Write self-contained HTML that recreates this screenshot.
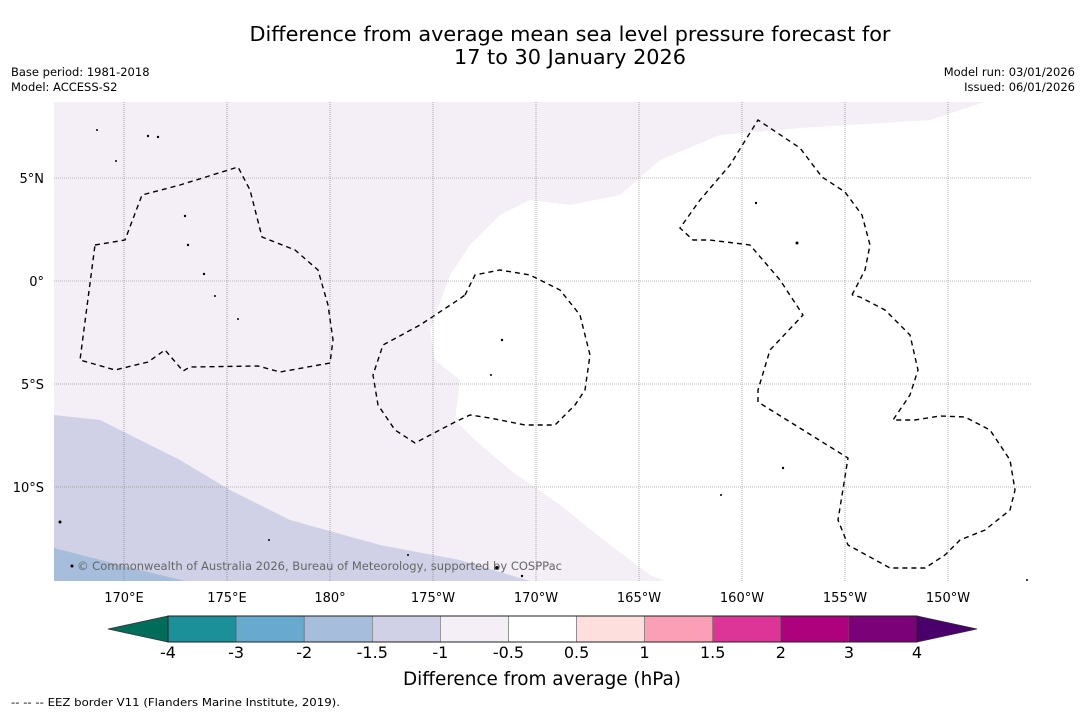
<!DOCTYPE html>
<html><head><meta charset="utf-8">
<style>
body{margin:0;background:#fff;font-family:"DejaVu Sans","Liberation Sans",sans-serif;}
#root{position:relative;width:1085px;height:713px;overflow:hidden;background:#fff;}
</style></head>
<body>
<div id="root">
<svg width="1085" height="713" xmlns="http://www.w3.org/2000/svg">
<text x="570" y="41" text-anchor="middle" font-size="20.8">Difference from average mean sea level pressure forecast for</text>
<text x="570" y="64" text-anchor="middle" font-size="20.8">17 to 30 January 2026</text>
<text x="11" y="76" font-size="11.5">Base period: 1981-2018</text>
<text x="11" y="91" font-size="11.5">Model: ACCESS-S2</text>
<text x="1075" y="76" font-size="11.5" text-anchor="end">Model run: 03/01/2026</text>
<text x="1075" y="91" font-size="11.5" text-anchor="end">Issued: 06/01/2026</text>
<defs><clipPath id="mc"><rect x="54" y="102" width="977" height="479"/></clipPath></defs>
<g clip-path="url(#mc)">
<rect x="54" y="102" width="977" height="479" fill="#f4eef6"/>
<polygon fill="#ffffff" points="985,102 930,120 800,128 720,135 660,160 620,195 570,205 530,200 500,215 470,245 450,275 430,330 435,360 460,380 455,420 475,440 510,470 560,505 610,545 650,575 665,581 1031,581 1031,102"/>
<polygon fill="#d0d1e6" points="54,415 100,420 180,460 230,490 290,520 380,545 460,560 530,581 54,581"/>
<polygon fill="#a6bddb" points="54,548 120,565 185,581 54,581"/>
<g id="grid" stroke="#777" stroke-width="0.6" stroke-dasharray="1,1"></g>
<g fill="none" stroke="#000" stroke-width="1.4" stroke-dasharray="5,4">
<polyline points="95,245 125,240 142,195 180,185 238,167 250,190 262,237 295,250 318,270 328,305 333,340 330,363 280,372 258,366 190,367 183,371 165,350 148,362 115,370 80,360 95,245"/>
<polyline points="465,295 475,275 500,270 530,275 560,290 580,315 590,355 585,390 575,405 555,425 525,425 490,418 470,415 455,422 415,443 395,430 378,405 373,375 383,345 420,325 458,300 465,295"/>
<polyline points="852,295 865,270 870,245 862,215 845,192 822,177 800,148 770,128 758,120 730,165 700,200 680,228 693,240 710,240 750,245 780,280 803,315 770,350 758,390 758,402 848,458 838,520 848,545 890,568 925,568 945,555 960,540 985,530 1010,510 1015,490 1010,460 990,430 965,417 940,416 915,420 893,420 910,395 918,370 910,335 885,310 860,297 852,295"/>
</g>
<g fill="#000">
<circle cx="148" cy="136" r="1.2"/><circle cx="158" cy="137" r="1.2"/><circle cx="97" cy="130" r="1"/><circle cx="116" cy="161" r="1"/><circle cx="185" cy="216" r="1.2"/><circle cx="188" cy="245" r="1.2"/><circle cx="204" cy="274" r="1.2"/><circle cx="215" cy="296" r="1"/><circle cx="238" cy="319" r="1"/><circle cx="502" cy="340" r="1.2"/><circle cx="491" cy="375" r="1"/><circle cx="756" cy="203" r="1.2"/><circle cx="797" cy="243" r="1.5"/><circle cx="783" cy="468" r="1.2"/><circle cx="721" cy="495" r="1"/><circle cx="60" cy="522" r="1.5"/><circle cx="72" cy="566" r="1.5"/><circle cx="497" cy="568" r="2"/><circle cx="522" cy="576" r="1.2"/><circle cx="269" cy="540" r="1"/><circle cx="408" cy="555" r="1"/><circle cx="1027" cy="580" r="1"/>
</g>
<text x="77" y="570" font-size="11.6" fill="#666" textLength="485" lengthAdjust="spacingAndGlyphs">© Commonwealth of Australia 2026, Bureau of Meteorology, supported by COSPPac</text>
</g>
<g id="axislabels" font-size="13"></g>
<g id="cbar"></g>
<text x="542" y="685" text-anchor="middle" font-size="18.4">Difference from average (hPa)</text>
<text x="11" y="706" font-size="11" textLength="329" lengthAdjust="spacingAndGlyphs">--  --  -- EEZ border V11 (Flanders Marine Institute, 2019).</text>
</svg>
</div>
<script>
const lonTicks=[170,175,180,185,190,195,200,205,210];
const lonLabels=["170°E","175°E","180°","175°W","170°W","165°W","160°W","155°W","150°W"];
const latTicks=[5,0,-5,-10];
const latLabels=["5°N","0°","5°S","10°S"];
const cbarLabels=["-4","-3","-2","-1.5","-1","-0.5","0.5","1","1.5","2","3","4"];
const cbarColors=["#1c9099","#67a9cf","#a6bddb","#d0d1e6","#f4eef6","#ffffff","#fde0dd","#fa9fb5","#dd3497","#ae017e","#7a0177"];
const NS="http://www.w3.org/2000/svg";
const xLon=l=>124+(l-170)*20.6;
const yLat=l=>281-l*20.6;
const grid=document.getElementById('grid');
lonTicks.forEach(l=>{const e=document.createElementNS(NS,'line');


e.setAttribute('x1',xLon(l));e.setAttribute('x2',xLon(l));e.setAttribute('y1',102);e.setAttribute('y2',581);grid.appendChild(e);});
latTicks.forEach(l=>{const e=document.createElementNS(NS,'line');


e.setAttribute('y1',yLat(l));e.setAttribute('y2',yLat(l));e.setAttribute('x1',54);e.setAttribute('x2',1031);grid.appendChild(e);});
const ax=document.getElementById('axislabels');
lonTicks.forEach((l,i)=>{const t=document.createElementNS(NS,'text');


t.setAttribute('x',xLon(l));t.setAttribute('y',602);t.setAttribute('text-anchor','middle');t.textContent=lonLabels[i];ax.appendChild(t);});
latTicks.forEach((l,i)=>{const t=document.createElementNS(NS,'text');


t.setAttribute('x',44);t.setAttribute('y',yLat(l)+5);t.setAttribute('text-anchor','end');t.textContent=latLabels[i];ax.appendChild(t);});
const cb=document.getElementById('cbar');
const x0=168,w=(917-168)/cbarColors.length,y0=616,h=26;
cbarColors.forEach((c,i)=>{const r=document.createElementNS(NS,'rect');


r.setAttribute('x',x0+i*w);r.setAttribute('y',y0);r.setAttribute('width',w);r.setAttribute('height',h);r.setAttribute('fill',c);r.setAttribute('stroke','#555');r.setAttribute('stroke-width','0.5');cb.appendChild(r);});
[["#006d5b",`${x0},${y0} ${x0},${y0+h} 108,${y0+h/2}`],["#49006a",`917,${y0} 917,${y0+h} 977,${y0+h/2}`]].forEach(a=>{const p=document.createElementNS(NS,'polygon');


p.setAttribute('points',a[1]);p.setAttribute('fill',a[0]);p.setAttribute('stroke','#333');p.setAttribute('stroke-width','0.8');cb.appendChild(p);});
const o=document.createElementNS(NS,'rect');


o.setAttribute('x',x0);o.setAttribute('y',y0);o.setAttribute('width',917-x0);o.setAttribute('height',h);o.setAttribute('fill','none');o.setAttribute('stroke','#222');cb.appendChild(o);
cbarLabels.forEach((s,i)=>{const t=document.createElementNS(NS,'text');


t.setAttribute('x',x0+i*w);t.setAttribute('y',658);t.setAttribute('text-anchor','middle');t.setAttribute('font-size','16');t.textContent=s;cb.appendChild(t);});
</script>
</body></html>
